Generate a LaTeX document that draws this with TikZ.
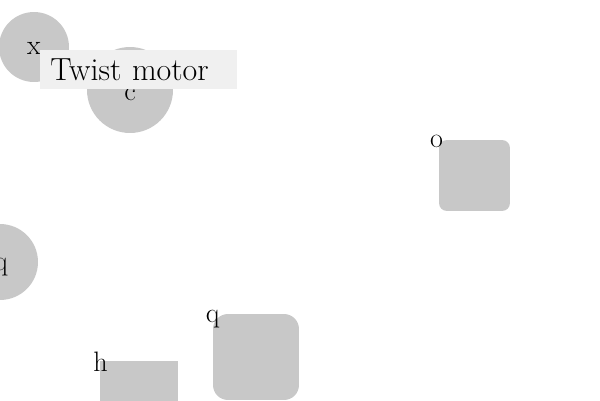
\documentclass[tikz,border=0pt]{standalone}
\usetikzlibrary{positioning}
\definecolor{shapegray}{RGB}{200,200,200}
\definecolor{boxgray}{RGB}{240,240,240}

\begin{document}
\begin{tikzpicture}[x=0.02cm,y=-0.02cm,
    font=\fontsize{16}{19}\selectfont,
    blob/.style={circle,fill=shapegray,inner sep=0pt},
    tile/.style={rectangle,fill=shapegray,inner sep=0pt},
    tag/.style={anchor=center}]
  \clip (0,0) rectangle (600,400);
  \node [blob,minimum size=1.4cm,label={[tag,yshift=-0.02cm]center:x}] (x) at (34,47) {};
  \node [blob,minimum size=1.72cm,label={[tag,yshift=-0.08cm]center:c}] (c) at (130,90) {};
  \node [blob,minimum size=1.52cm,label={[tag,xshift=0.02cm,yshift=-0.1cm]center:q}] (q1) at (0,262) {};
  \node [tile,rounded corners=0.16cm,minimum size=1.42cm,label={[tag,xshift=-0.04cm,yshift=-0.04cm]north west:o}] (o) at (474.5,175.5) {};
  \node [tile,rounded corners=0.3cm,minimum size=1.72cm,label={[tag,yshift=-0.1cm]north west:q}] (q2) at (256,357) {};
  \node [tile,minimum size=1.56cm,label={[tag,xshift=0.02cm,yshift=-0.02cm]north west:h}] (h) at (139,400) {};
  \node [fill=boxgray,anchor=north west,inner xsep=0.2cm,inner ysep=0pt,
         font=\fontsize{18.2}{21}\selectfont,
         text width=3.54cm,align=left,minimum height=0.78cm] (twist) at (40,50) {Twist motor};
\end{tikzpicture}
\end{document}
